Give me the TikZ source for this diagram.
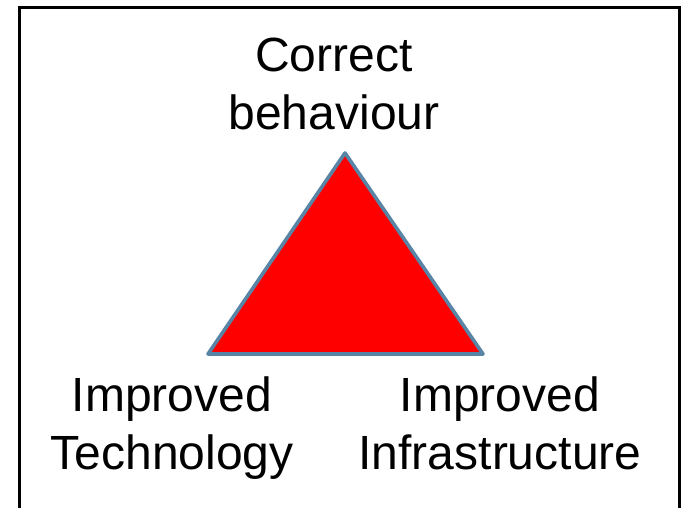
\documentclass[tikz,border=0pt]{standalone}
\usepackage{fontspec}
\setmainfont{Liberation Sans}
\definecolor{edgeblue}{RGB}{88,132,166}
\definecolor{trired}{RGB}{255,0,0}
\begin{document}
\begin{tikzpicture}[x=1pt,y=-1pt,
  lbl/.style={inner sep=0pt, align=center, anchor=base,
    font=\fontsize{48}{58}\selectfont}]
\useasboundingbox (0,0) rectangle (683,508);
\clip (0,0) rectangle (683,508);
\fill[white] (0,0) rectangle (683,508);
\draw[line width=3pt] (19,8) rectangle (679,530);
\coordinate (apex) at (345,153);
\coordinate (bl) at (208,354);
\coordinate (br) at (483,354);
\filldraw[fill=trired, draw=edgeblue, line width=3.6pt, line join=round] (apex) -- (br) -- (bl) -- cycle;
\node[lbl] (top) at (334,130) {Correct\\behaviour};
\node[lbl] (left) at (172,469) {Improved\\Technology};
\node[lbl] (right) at (500,469) {Improved\\Infrastructure};
\end{tikzpicture}
\end{document}
